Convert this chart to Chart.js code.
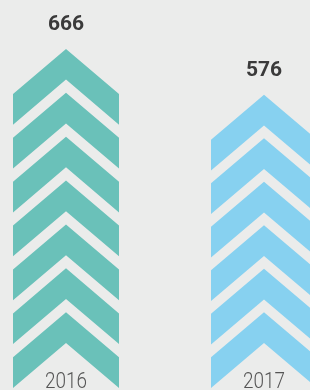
<!DOCTYPE html>
<html>
<head>
<meta charset="utf-8">
<script src="https://cdn.jsdelivr.net/npm/chart.js@4"></script>
<style>
  html, body { margin: 0; padding: 0; background: #ebeceb; overflow: hidden; }
  #wrap { width: 310px; height: 390px; }
</style>
</head>
<body>
<div id="wrap"><canvas id="chart"></canvas></div>
<script>
const years = ["2016", "2017"];
const counts = [666, 576];
const barColors = ["#6ac1b9", "#87d1f0"];

// draws each bar as a stack of chevrons, plus value and year labels
const chevronBars = {
  id: "chevronBars",
  beforeDatasetDraw() {
    return false;
  },
  afterDatasetsDraw(chart) {
    const ctx = chart.ctx;
    const meta = chart.getDatasetMeta(0);
    meta.data.forEach((bar, i) => {
      const cx = bar.x;
      const hw = bar.width / 2;
      const top = bar.y;
      const base = bar.base;
      const d = hw * 0.85;
      const thick = 30.7;
      const step0 = 43.7;
      const span = base - top - d - thick;
      const n = Math.max(1, Math.round(span / step0) + 1);
      const step = n > 1 ? span / (n - 1) : 0;

      ctx.save();
      ctx.fillStyle = barColors[i];
      for (let k = 0; k < n; k++) {
        const t = top + k * step;
        ctx.beginPath();
        ctx.moveTo(cx, t);
        ctx.lineTo(cx + hw, t + d);
        ctx.lineTo(cx + hw, t + d + thick);
        ctx.lineTo(cx, t + thick);
        ctx.lineTo(cx - hw, t + d + thick);
        ctx.lineTo(cx - hw, t + d);
        ctx.closePath();
        ctx.fill();
      }

      ctx.textAlign = "center";
      ctx.textBaseline = "alphabetic";
      ctx.fillStyle = "#3a3a3a";
      ctx.font = "bold 21px Roboto";
      ctx.fillText(String(counts[i]), cx, top - 19);

      ctx.fillStyle = "#555555";
      ctx.font = "300 22px Roboto";
      ctx.translate(cx, base);
      ctx.scale(0.86, 1);
      ctx.fillText(years[i], 0, 0);
      ctx.restore();
    });
  },
};

new Chart(document.getElementById("chart"), {
  type: "bar",
  data: {
    datasets: [
      {
        data: counts.map((v, i) => ({ x: i, y: v })),
        backgroundColor: barColors,
        barThickness: 106,
      },
    ],
  },
  options: {
    responsive: true,
    maintainAspectRatio: false,
    animation: false,
    layout: { padding: { top: 0, bottom: 2, left: 0, right: 0 } },
    plugins: {
      legend: { display: false },
      tooltip: { enabled: false },
    },
    scales: {
      x: {
        type: "linear",
        min: -66 / 198,
        max: 244 / 198,
        offset: false,
        display: false,
      },
      y: { min: 0, max: 762, display: false },
    },
  },
  plugins: [chevronBars],
});
</script>
</body>
</html>
